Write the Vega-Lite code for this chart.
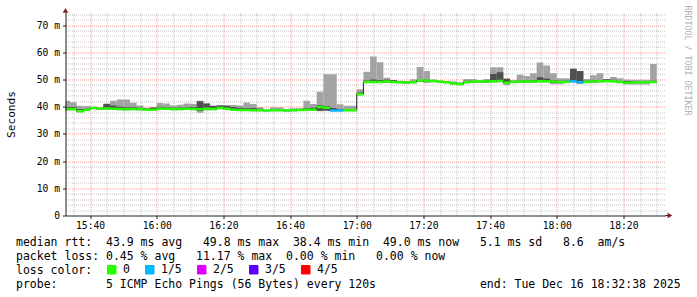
{
  "$schema": "https://vega.github.io/schema/vega-lite/v6.json",
  "width": 600,
  "height": 203,
  "autosize": "none",
  "padding": {"left": 65.5, "top": 12.5, "right": 31.5, "bottom": 81.5},
  "background": "#ffffff",
  "config": {
    "view": {"stroke": null},
    "font": "DejaVu Sans Mono",
    "axis": {"labelFont": "DejaVu Sans Mono", "titleFont": "DejaVu Sans Mono", "labelColor": "#000000", "titleColor": "#000000", "titleFontWeight": "normal"}
  },
  "title": {
    "text": [
      "median rtt:\u00a0\u00a043.9 ms avg\u00a0\u00a0\u00a049.8 ms max\u00a0\u00a038.4 ms min\u00a0\u00a049.0 ms now\u00a0\u00a0\u00a05.1 ms sd\u00a0\u00a0\u00a08.6\u00a0\u00a0am/s",
      "packet loss: 0.45 % avg\u00a0\u00a0\u00a011.17 % max\u00a0\u00a00.00 % min\u00a0\u00a0\u00a00.00 % now",
      "loss color:",
      "probe:\u00a0\u00a0\u00a0\u00a0\u00a0\u00a0\u00a05 ICMP Echo Pings (56 Bytes) every 120s\u00a0\u00a0\u00a0\u00a0\u00a0\u00a0\u00a0\u00a0\u00a0\u00a0\u00a0\u00a0\u00a0\u00a0\u00a0end: Tue Dec 16 18:32:38 2025"
    ],
    "orient": "bottom",
    "anchor": "start",
    "frame": "group",
    "dx": -49.5,
    "dy": -43,
    "offset": 4,
    "font": "DejaVu Sans Mono",
    "fontSize": 11.5,
    "fontWeight": "normal",
    "color": "#000000",
    "lineHeight": 14
  },
  "datasets": {
    "smoke": [
      {"t":"2025-12-16T15:32:00","t2":"2025-12-16T15:34:00","p1":38.6,"p2":38.8,"med":39.0,"p4":39.8,"p5":42.2,"loss":"0"},
      {"t":"2025-12-16T15:34:00","t2":"2025-12-16T15:36:00","p1":38.7,"p2":38.9,"med":39.1,"p4":39.9,"p5":41.6,"loss":"0"},
      {"t":"2025-12-16T15:36:00","t2":"2025-12-16T15:38:00","p1":37.9,"p2":38.1,"med":38.3,"p4":39.0,"p5":40.3,"loss":"0"},
      {"t":"2025-12-16T15:38:00","t2":"2025-12-16T15:40:00","p1":38.4,"p2":38.6,"med":38.8,"p4":39.2,"p5":40.2,"loss":"0"},
      {"t":"2025-12-16T15:40:00","t2":"2025-12-16T15:42:00","p1":39.0,"p2":39.3,"med":39.5,"p4":39.6,"p5":40.0,"loss":"0"},
      {"t":"2025-12-16T15:42:00","t2":"2025-12-16T15:44:00","p1":38.8,"p2":39.0,"med":39.2,"p4":39.4,"p5":39.8,"loss":"0"},
      {"t":"2025-12-16T15:44:00","t2":"2025-12-16T15:46:00","p1":38.9,"p2":39.1,"med":39.3,"p4":41.0,"p5":41.2,"loss":"0"},
      {"t":"2025-12-16T15:46:00","t2":"2025-12-16T15:48:00","p1":38.8,"p2":39.0,"med":39.2,"p4":40.4,"p5":42.2,"loss":"0"},
      {"t":"2025-12-16T15:48:00","t2":"2025-12-16T15:50:00","p1":38.7,"p2":38.9,"med":39.1,"p4":40.0,"p5":42.6,"loss":"0"},
      {"t":"2025-12-16T15:50:00","t2":"2025-12-16T15:52:00","p1":38.6,"p2":38.8,"med":39.0,"p4":39.8,"p5":42.6,"loss":"0"},
      {"t":"2025-12-16T15:52:00","t2":"2025-12-16T15:54:00","p1":38.7,"p2":38.9,"med":39.1,"p4":39.8,"p5":41.4,"loss":"0"},
      {"t":"2025-12-16T15:54:00","t2":"2025-12-16T15:56:00","p1":38.6,"p2":38.8,"med":39.0,"p4":39.6,"p5":40.4,"loss":"0"},
      {"t":"2025-12-16T15:56:00","t2":"2025-12-16T15:58:00","p1":38.5,"p2":38.7,"med":38.9,"p4":39.3,"p5":39.6,"loss":"0"},
      {"t":"2025-12-16T15:58:00","t2":"2025-12-16T16:00:00","p1":38.5,"p2":38.7,"med":38.9,"p4":39.7,"p5":39.8,"loss":"0"},
      {"t":"2025-12-16T16:00:00","t2":"2025-12-16T16:02:00","p1":38.9,"p2":39.1,"med":39.3,"p4":40.0,"p5":41.3,"loss":"0"},
      {"t":"2025-12-16T16:02:00","t2":"2025-12-16T16:04:00","p1":38.8,"p2":39.0,"med":39.2,"p4":39.8,"p5":41.2,"loss":"0"},
      {"t":"2025-12-16T16:04:00","t2":"2025-12-16T16:06:00","p1":38.7,"p2":38.9,"med":39.1,"p4":39.6,"p5":40.4,"loss":"0"},
      {"t":"2025-12-16T16:06:00","t2":"2025-12-16T16:08:00","p1":38.7,"p2":38.9,"med":39.1,"p4":39.7,"p5":40.7,"loss":"0"},
      {"t":"2025-12-16T16:08:00","t2":"2025-12-16T16:10:00","p1":38.8,"p2":39.0,"med":39.2,"p4":39.8,"p5":41.2,"loss":"0"},
      {"t":"2025-12-16T16:10:00","t2":"2025-12-16T16:12:00","p1":38.7,"p2":38.9,"med":39.1,"p4":39.9,"p5":41.0,"loss":"0"},
      {"t":"2025-12-16T16:12:00","t2":"2025-12-16T16:14:00","p1":37.8,"p2":38.4,"med":39.0,"p4":42.0,"p5":42.2,"loss":"0"},
      {"t":"2025-12-16T16:14:00","t2":"2025-12-16T16:16:00","p1":38.6,"p2":38.9,"med":39.2,"p4":41.1,"p5":41.3,"loss":"0"},
      {"t":"2025-12-16T16:16:00","t2":"2025-12-16T16:18:00","p1":38.7,"p2":38.9,"med":39.1,"p4":40.2,"p5":40.4,"loss":"0"},
      {"t":"2025-12-16T16:18:00","t2":"2025-12-16T16:20:00","p1":39.0,"p2":39.2,"med":39.5,"p4":40.4,"p5":40.6,"loss":"0"},
      {"t":"2025-12-16T16:20:00","t2":"2025-12-16T16:22:00","p1":38.8,"p2":39.0,"med":39.2,"p4":40.3,"p5":40.5,"loss":"0"},
      {"t":"2025-12-16T16:22:00","t2":"2025-12-16T16:24:00","p1":38.5,"p2":38.7,"med":38.9,"p4":39.9,"p5":40.6,"loss":"0"},
      {"t":"2025-12-16T16:24:00","t2":"2025-12-16T16:26:00","p1":38.4,"p2":38.6,"med":38.8,"p4":39.6,"p5":40.4,"loss":"0"},
      {"t":"2025-12-16T16:26:00","t2":"2025-12-16T16:28:00","p1":38.4,"p2":38.6,"med":38.8,"p4":39.5,"p5":41.5,"loss":"0"},
      {"t":"2025-12-16T16:28:00","t2":"2025-12-16T16:30:00","p1":38.3,"p2":38.5,"med":38.7,"p4":39.5,"p5":41.0,"loss":"0"},
      {"t":"2025-12-16T16:30:00","t2":"2025-12-16T16:32:00","p1":38.3,"p2":38.5,"med":38.7,"p4":39.2,"p5":39.8,"loss":"0"},
      {"t":"2025-12-16T16:32:00","t2":"2025-12-16T16:34:00","p1":38.2,"p2":38.4,"med":38.6,"p4":38.8,"p5":38.9,"loss":"0"},
      {"t":"2025-12-16T16:34:00","t2":"2025-12-16T16:36:00","p1":38.3,"p2":38.5,"med":38.7,"p4":39.0,"p5":39.8,"loss":"0"},
      {"t":"2025-12-16T16:36:00","t2":"2025-12-16T16:38:00","p1":38.3,"p2":38.5,"med":38.7,"p4":38.9,"p5":39.8,"loss":"0"},
      {"t":"2025-12-16T16:38:00","t2":"2025-12-16T16:40:00","p1":38.2,"p2":38.3,"med":38.6,"p4":38.9,"p5":39.0,"loss":"0"},
      {"t":"2025-12-16T16:40:00","t2":"2025-12-16T16:42:00","p1":38.3,"p2":38.5,"med":38.7,"p4":39.0,"p5":39.4,"loss":"0"},
      {"t":"2025-12-16T16:42:00","t2":"2025-12-16T16:44:00","p1":38.4,"p2":38.6,"med":38.8,"p4":39.0,"p5":39.4,"loss":"0"},
      {"t":"2025-12-16T16:44:00","t2":"2025-12-16T16:46:00","p1":38.5,"p2":38.7,"med":38.9,"p4":39.5,"p5":42.2,"loss":"0"},
      {"t":"2025-12-16T16:46:00","t2":"2025-12-16T16:48:00","p1":38.5,"p2":38.7,"med":38.9,"p4":39.6,"p5":41.0,"loss":"0"},
      {"t":"2025-12-16T16:48:00","t2":"2025-12-16T16:50:00","p1":38.3,"p2":38.5,"med":39.9,"p4":40.5,"p5":45.5,"loss":"0"},
      {"t":"2025-12-16T16:50:00","t2":"2025-12-16T16:52:00","p1":38.4,"p2":38.6,"med":39.6,"p4":40.2,"p5":51.9,"loss":"0"},
      {"t":"2025-12-16T16:52:00","t2":"2025-12-16T16:54:00","p1":38.3,"p2":38.4,"med":38.6,"p4":39.5,"p5":51.9,"loss":"1/5"},
      {"t":"2025-12-16T16:54:00","t2":"2025-12-16T16:56:00","p1":38.3,"p2":38.4,"med":38.6,"p4":39.0,"p5":40.9,"loss":"1/5"},
      {"t":"2025-12-16T16:56:00","t2":"2025-12-16T16:58:00","p1":38.3,"p2":38.5,"med":38.7,"p4":39.0,"p5":40.3,"loss":"0"},
      {"t":"2025-12-16T16:58:00","t2":"2025-12-16T17:00:00","p1":38.3,"p2":38.5,"med":38.7,"p4":39.0,"p5":40.3,"loss":"0"},
      {"t":"2025-12-16T17:00:00","t2":"2025-12-16T17:02:00","p1":44.2,"p2":44.4,"med":44.6,"p4":45.2,"p5":46.4,"loss":"0"},
      {"t":"2025-12-16T17:02:00","t2":"2025-12-16T17:04:00","p1":48.7,"p2":48.9,"med":49.1,"p4":49.6,"p5":52.8,"loss":"0"},
      {"t":"2025-12-16T17:04:00","t2":"2025-12-16T17:06:00","p1":48.7,"p2":48.9,"med":49.1,"p4":50.0,"p5":58.4,"loss":"0"},
      {"t":"2025-12-16T17:06:00","t2":"2025-12-16T17:08:00","p1":48.7,"p2":48.9,"med":49.1,"p4":49.8,"p5":56.3,"loss":"0"},
      {"t":"2025-12-16T17:08:00","t2":"2025-12-16T17:10:00","p1":48.8,"p2":49.0,"med":49.2,"p4":49.9,"p5":50.6,"loss":"0"},
      {"t":"2025-12-16T17:10:00","t2":"2025-12-16T17:12:00","p1":48.7,"p2":48.9,"med":49.1,"p4":49.8,"p5":49.8,"loss":"0"},
      {"t":"2025-12-16T17:12:00","t2":"2025-12-16T17:14:00","p1":48.6,"p2":48.8,"med":49.0,"p4":49.3,"p5":49.5,"loss":"0"},
      {"t":"2025-12-16T17:14:00","t2":"2025-12-16T17:16:00","p1":48.4,"p2":48.6,"med":48.9,"p4":49.2,"p5":49.3,"loss":"0"},
      {"t":"2025-12-16T17:16:00","t2":"2025-12-16T17:18:00","p1":48.6,"p2":48.8,"med":49.0,"p4":49.4,"p5":50.1,"loss":"0"},
      {"t":"2025-12-16T17:18:00","t2":"2025-12-16T17:20:00","p1":49.1,"p2":49.3,"med":49.6,"p4":49.9,"p5":54.6,"loss":"0"},
      {"t":"2025-12-16T17:20:00","t2":"2025-12-16T17:22:00","p1":48.8,"p2":49.0,"med":49.5,"p4":49.9,"p5":53.1,"loss":"0"},
      {"t":"2025-12-16T17:22:00","t2":"2025-12-16T17:24:00","p1":49.0,"p2":49.2,"med":49.4,"p4":49.6,"p5":50.0,"loss":"0"},
      {"t":"2025-12-16T17:24:00","t2":"2025-12-16T17:26:00","p1":48.8,"p2":49.0,"med":49.2,"p4":49.3,"p5":49.5,"loss":"0"},
      {"t":"2025-12-16T17:26:00","t2":"2025-12-16T17:28:00","p1":48.6,"p2":48.8,"med":49.0,"p4":49.2,"p5":49.4,"loss":"0"},
      {"t":"2025-12-16T17:28:00","t2":"2025-12-16T17:30:00","p1":48.1,"p2":48.3,"med":48.5,"p4":48.9,"p5":49.2,"loss":"0"},
      {"t":"2025-12-16T17:30:00","t2":"2025-12-16T17:32:00","p1":47.9,"p2":48.1,"med":48.3,"p4":48.6,"p5":49.0,"loss":"0"},
      {"t":"2025-12-16T17:32:00","t2":"2025-12-16T17:34:00","p1":48.6,"p2":48.8,"med":49.0,"p4":49.5,"p5":50.2,"loss":"0"},
      {"t":"2025-12-16T17:34:00","t2":"2025-12-16T17:36:00","p1":48.8,"p2":49.0,"med":49.2,"p4":49.5,"p5":50.2,"loss":"0"},
      {"t":"2025-12-16T17:36:00","t2":"2025-12-16T17:38:00","p1":48.8,"p2":49.0,"med":49.2,"p4":49.4,"p5":49.8,"loss":"0"},
      {"t":"2025-12-16T17:38:00","t2":"2025-12-16T17:40:00","p1":48.8,"p2":49.0,"med":49.2,"p4":49.6,"p5":50.2,"loss":"0"},
      {"t":"2025-12-16T17:40:00","t2":"2025-12-16T17:42:00","p1":48.9,"p2":49.1,"med":49.3,"p4":52.0,"p5":54.5,"loss":"0"},
      {"t":"2025-12-16T17:42:00","t2":"2025-12-16T17:44:00","p1":49.0,"p2":49.2,"med":49.4,"p4":52.6,"p5":54.5,"loss":"0"},
      {"t":"2025-12-16T17:44:00","t2":"2025-12-16T17:46:00","p1":48.0,"p2":48.4,"med":48.8,"p4":50.2,"p5":50.4,"loss":"0"},
      {"t":"2025-12-16T17:46:00","t2":"2025-12-16T17:48:00","p1":48.7,"p2":48.9,"med":49.1,"p4":49.4,"p5":49.8,"loss":"0"},
      {"t":"2025-12-16T17:48:00","t2":"2025-12-16T17:50:00","p1":48.8,"p2":49.0,"med":49.2,"p4":49.6,"p5":51.7,"loss":"0"},
      {"t":"2025-12-16T17:50:00","t2":"2025-12-16T17:52:00","p1":48.8,"p2":49.0,"med":49.2,"p4":49.6,"p5":51.3,"loss":"0"},
      {"t":"2025-12-16T17:52:00","t2":"2025-12-16T17:54:00","p1":48.8,"p2":49.0,"med":49.2,"p4":49.8,"p5":52.3,"loss":"0"},
      {"t":"2025-12-16T17:54:00","t2":"2025-12-16T17:56:00","p1":48.9,"p2":49.1,"med":49.3,"p4":50.8,"p5":56.2,"loss":"0"},
      {"t":"2025-12-16T17:56:00","t2":"2025-12-16T17:58:00","p1":48.9,"p2":49.1,"med":49.3,"p4":50.3,"p5":55.1,"loss":"0"},
      {"t":"2025-12-16T17:58:00","t2":"2025-12-16T18:00:00","p1":48.2,"p2":48.8,"med":49.2,"p4":49.8,"p5":52.3,"loss":"0"},
      {"t":"2025-12-16T18:00:00","t2":"2025-12-16T18:02:00","p1":48.2,"p2":48.8,"med":49.1,"p4":49.5,"p5":50.4,"loss":"0"},
      {"t":"2025-12-16T18:02:00","t2":"2025-12-16T18:04:00","p1":48.7,"p2":48.9,"med":49.1,"p4":49.5,"p5":50.4,"loss":"0"},
      {"t":"2025-12-16T18:04:00","t2":"2025-12-16T18:06:00","p1":48.9,"p2":49.1,"med":49.3,"p4":53.9,"p5":53.9,"loss":"1/5"},
      {"t":"2025-12-16T18:06:00","t2":"2025-12-16T18:08:00","p1":48.3,"p2":48.7,"med":49.0,"p4":53.1,"p5":53.1,"loss":"1/5"},
      {"t":"2025-12-16T18:08:00","t2":"2025-12-16T18:10:00","p1":48.7,"p2":48.9,"med":49.1,"p4":49.5,"p5":50.2,"loss":"0"},
      {"t":"2025-12-16T18:10:00","t2":"2025-12-16T18:12:00","p1":48.8,"p2":49.0,"med":49.2,"p4":49.6,"p5":51.5,"loss":"0"},
      {"t":"2025-12-16T18:12:00","t2":"2025-12-16T18:14:00","p1":48.9,"p2":49.1,"med":49.3,"p4":49.8,"p5":52.3,"loss":"0"},
      {"t":"2025-12-16T18:14:00","t2":"2025-12-16T18:16:00","p1":49.0,"p2":49.2,"med":49.4,"p4":50.2,"p5":50.2,"loss":"0"},
      {"t":"2025-12-16T18:16:00","t2":"2025-12-16T18:18:00","p1":48.9,"p2":49.1,"med":49.3,"p4":49.9,"p5":50.9,"loss":"0"},
      {"t":"2025-12-16T18:18:00","t2":"2025-12-16T18:20:00","p1":48.7,"p2":48.9,"med":49.1,"p4":49.4,"p5":50.4,"loss":"0"},
      {"t":"2025-12-16T18:20:00","t2":"2025-12-16T18:22:00","p1":48.1,"p2":48.6,"med":48.8,"p4":49.4,"p5":50.0,"loss":"0"},
      {"t":"2025-12-16T18:22:00","t2":"2025-12-16T18:24:00","p1":48.1,"p2":48.6,"med":48.9,"p4":49.3,"p5":49.9,"loss":"0"},
      {"t":"2025-12-16T18:24:00","t2":"2025-12-16T18:26:00","p1":48.1,"p2":48.7,"med":49.0,"p4":49.3,"p5":49.9,"loss":"0"},
      {"t":"2025-12-16T18:26:00","t2":"2025-12-16T18:28:00","p1":48.1,"p2":48.7,"med":49.0,"p4":49.3,"p5":49.9,"loss":"0"},
      {"t":"2025-12-16T18:28:00","t2":"2025-12-16T18:30:00","p1":48.7,"p2":48.9,"med":49.1,"p4":49.5,"p5":55.7,"loss":"0"}
    ]
  },
  "data": {"name": "smoke"},
  "resolve": {"axis": {"x": "independent", "y": "independent"}},
  "layer": [
    {
      "mark": {"type": "rect", "color": "#a3a3a3", "clip": true},
      "encoding": {
        "x": {"field": "t", "type": "temporal",
          "scale": {"domain": [{"year":2025,"month":12,"date":16,"hours":15,"minutes":32,"seconds":38},{"year":2025,"month":12,"date":16,"hours":18,"minutes":32,"seconds":38}], "nice": false},
          "axis": {"orient": "bottom", "title": null, "labels": false, "ticks": false, "domain": false, "grid": true,
            "gridColor": "#8c8c8c", "gridOpacity": 0.5, "gridDash": [1, 1], "gridWidth": 1,
            "values": [
              {"year":2025,"month":12,"date":16,"hours":15,"minutes":35},
              {"year":2025,"month":12,"date":16,"hours":15,"minutes":45},
              {"year":2025,"month":12,"date":16,"hours":15,"minutes":50},
              {"year":2025,"month":12,"date":16,"hours":15,"minutes":55},
              {"year":2025,"month":12,"date":16,"hours":16,"minutes":5},
              {"year":2025,"month":12,"date":16,"hours":16,"minutes":10},
              {"year":2025,"month":12,"date":16,"hours":16,"minutes":15},
              {"year":2025,"month":12,"date":16,"hours":16,"minutes":25},
              {"year":2025,"month":12,"date":16,"hours":16,"minutes":30},
              {"year":2025,"month":12,"date":16,"hours":16,"minutes":35},
              {"year":2025,"month":12,"date":16,"hours":16,"minutes":45},
              {"year":2025,"month":12,"date":16,"hours":16,"minutes":50},
              {"year":2025,"month":12,"date":16,"hours":16,"minutes":55},
              {"year":2025,"month":12,"date":16,"hours":17,"minutes":5},
              {"year":2025,"month":12,"date":16,"hours":17,"minutes":10},
              {"year":2025,"month":12,"date":16,"hours":17,"minutes":15},
              {"year":2025,"month":12,"date":16,"hours":17,"minutes":25},
              {"year":2025,"month":12,"date":16,"hours":17,"minutes":30},
              {"year":2025,"month":12,"date":16,"hours":17,"minutes":35},
              {"year":2025,"month":12,"date":16,"hours":17,"minutes":45},
              {"year":2025,"month":12,"date":16,"hours":17,"minutes":50},
              {"year":2025,"month":12,"date":16,"hours":17,"minutes":55},
              {"year":2025,"month":12,"date":16,"hours":18,"minutes":5},
              {"year":2025,"month":12,"date":16,"hours":18,"minutes":10},
              {"year":2025,"month":12,"date":16,"hours":18,"minutes":15},
              {"year":2025,"month":12,"date":16,"hours":18,"minutes":25},
              {"year":2025,"month":12,"date":16,"hours":18,"minutes":30}
            ]}},
        "x2": {"field": "t2"},
        "y": {"field": "p1", "type": "quantitative",
          "scale": {"domain": [0, 74.6], "nice": false, "zero": false},
          "axis": {"orient": "left", "title": null, "labels": false, "ticks": false, "domain": false, "grid": true,
            "gridColor": "#8c8c8c", "gridOpacity": 0.5, "gridDash": [1, 1], "gridWidth": 1,
            "values": [2,4,6,8,12,14,16,18,22,24,26,28,32,34,36,38,42,44,46,48,52,54,56,58,62,64,66,68,72,74]}},
        "y2": {"field": "p5"}
      }
    },
    {
      "mark": {"type": "rect", "color": "#505050", "clip": true},
      "encoding": {
        "x": {"field": "t", "type": "temporal",
          "axis": {"orient": "bottom", "title": null, "labels": false, "ticks": false, "domain": false, "grid": true,
            "gridColor": "#f54f4f", "gridOpacity": 0.55, "gridDash": [1, 1], "gridWidth": 1,
            "values": [
              {"year":2025,"month":12,"date":16,"hours":15,"minutes":40},
              {"year":2025,"month":12,"date":16,"hours":16,"minutes":0},
              {"year":2025,"month":12,"date":16,"hours":16,"minutes":20},
              {"year":2025,"month":12,"date":16,"hours":16,"minutes":40},
              {"year":2025,"month":12,"date":16,"hours":17,"minutes":0},
              {"year":2025,"month":12,"date":16,"hours":17,"minutes":20},
              {"year":2025,"month":12,"date":16,"hours":17,"minutes":40},
              {"year":2025,"month":12,"date":16,"hours":18,"minutes":0},
              {"year":2025,"month":12,"date":16,"hours":18,"minutes":20}
            ]}},
        "x2": {"field": "t2"},
        "y": {"field": "p2", "type": "quantitative",
          "axis": {"orient": "left", "title": null, "labels": false, "ticks": false, "domain": false, "grid": true,
            "gridColor": "#f54f4f", "gridOpacity": 0.55, "gridDash": [1, 1], "gridWidth": 1,
            "values": [10,20,30,40,50,60,70]}},
        "y2": {"field": "p4"}
      }
    },
    {
      "mark": {"type": "line", "interpolate": "step-after", "color": "#202020", "strokeWidth": 1, "clip": true},
      "encoding": {
        "x": {"field": "t", "type": "temporal", "axis": null},
        "y": {"field": "med", "type": "quantitative", "axis": null}
      }
    },
    {
      "mark": {"type": "rule", "strokeWidth": 2.5, "clip": true},
      "encoding": {
        "x": {"field": "t", "type": "temporal",
          "axis": {"orient": "bottom", "title": null, "grid": false, "zindex": 1, "format": "%H:%M",
            "labelFontSize": 9.7, "labelPadding": 2, "tickSize": 3, "tickColor": "#1f1f1f", "domainColor": "#1f1f1f",
            "labelFlush": false, "labelOverlap": false,
            "values": [
              {"year":2025,"month":12,"date":16,"hours":15,"minutes":40},
              {"year":2025,"month":12,"date":16,"hours":16,"minutes":0},
              {"year":2025,"month":12,"date":16,"hours":16,"minutes":20},
              {"year":2025,"month":12,"date":16,"hours":16,"minutes":40},
              {"year":2025,"month":12,"date":16,"hours":17,"minutes":0},
              {"year":2025,"month":12,"date":16,"hours":17,"minutes":20},
              {"year":2025,"month":12,"date":16,"hours":17,"minutes":40},
              {"year":2025,"month":12,"date":16,"hours":18,"minutes":0},
              {"year":2025,"month":12,"date":16,"hours":18,"minutes":20}
            ]}},
        "x2": {"field": "t2"},
        "y": {"field": "med", "type": "quantitative",
          "axis": {"orient": "left", "title": "Seconds", "grid": false, "zindex": 1,
            "values": [0,10,20,30,40,50,60,70],
            "labelExpr": "datum.value === 0 ? '0' : datum.value + ' m'",
            "labelFontSize": 9.7, "labelPadding": 3, "tickSize": 3, "tickColor": "#1f1f1f", "domainColor": "#1f1f1f",
            "labelFlush": false, "labelOverlap": false,
            "titleFontSize": 11.1, "titleAngle": -90, "titleX": -54.5, "titleY": 101.5, "titleAlign": "center", "titleBaseline": "middle"}},
        "color": {"field": "loss", "type": "nominal",
          "scale": {"domain": ["0", "1/5", "2/5", "3/5", "4/5"], "range": ["#26ff00", "#00b8ff", "#dd00ff", "#5e00ff", "#ff0000"]},
          "legend": {"orient": "none", "legendX": 40.5, "legendY": 251.5, "direction": "horizontal", "title": null,
            "symbolType": "square", "symbolSize": 72, "symbolStrokeWidth": 1, "symbolOpacity": 1,
            "labelFont": "DejaVu Sans Mono", "labelFontSize": 11.5, "labelColor": "#000000", "labelOffset": 5.5,
            "columnPadding": 13, "padding": 0,
            "encode": {"symbols": {"update": {"fill": {"scale": "color", "field": "value"}, "stroke": {"value": "#000000"}, "strokeWidth": {"value": 1}, "opacity": {"value": 1}}}}}}
      }
    },
    {
      "mark": {"type": "rule", "opacity": 0},
      "encoding": {
        "x": {"field": "t", "type": "temporal", "axis": null},
        "x2": {"field": "t2"},
        "y": {"field": "med", "type": "quantitative",
          "axis": {"orient": "right", "title": "RRDTOOL / TOBI OETIKER", "labels": false, "ticks": false, "domain": false, "grid": false,
            "titleFontSize": 8.3, "titleColor": "#b0b0b0", "titleAngle": 90, "titleX": 20.5, "titleY": -7.5, "titleAlign": "left", "titleBaseline": "middle"}}
      }
    },
    {
      "data": {"values": [{"t": "2025-12-16T18:32:38", "t2": "2025-12-16T18:33:40", "v": 0}]},
      "mark": {"type": "rule", "color": "#1f1f1f", "strokeWidth": 1, "clip": false},
      "encoding": {
        "x": {"field": "t", "type": "temporal", "axis": null},
        "x2": {"field": "t2"},
        "y": {"field": "v", "type": "quantitative", "axis": null}
      }
    },
    {
      "data": {"values": [{"t": "2025-12-16T18:33:58", "v": 0}]},
      "mark": {"type": "point", "shape": "triangle-right", "filled": true, "color": "#801f1f", "size": 30, "opacity": 1, "clip": false},
      "encoding": {
        "x": {"field": "t", "type": "temporal", "axis": null},
        "y": {"field": "v", "type": "quantitative", "axis": null}
      }
    },
    {
      "data": {"values": [{"t": "2025-12-16T15:32:38", "v": 75.4}]},
      "mark": {"type": "point", "shape": "triangle-up", "filled": true, "color": "#801f1f", "size": 30, "opacity": 1, "clip": false},
      "encoding": {
        "x": {"field": "t", "type": "temporal", "axis": null},
        "y": {"field": "v", "type": "quantitative", "axis": null}
      }
    }
  ]
}
